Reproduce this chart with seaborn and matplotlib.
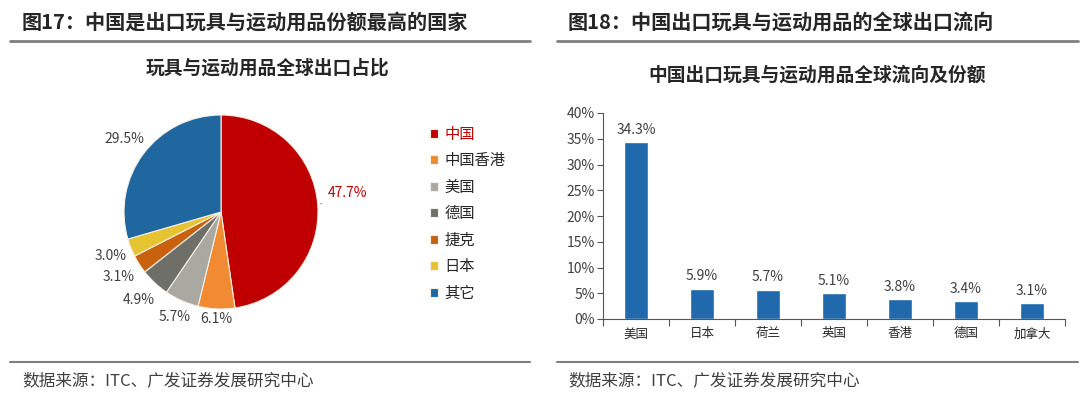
import numpy as np
import pandas as pd
import seaborn as sns
import matplotlib.pyplot as plt
import matplotlib.ticker as ticker
from matplotlib.lines import Line2D

sns.set_style("white")
plt.rcParams["font.family"] = ["Noto Sans CJK SC", "DejaVu Sans"]

# left panel: share of global toy & sporting goods exports
pie_labels = ["中国", "中国香港", "美国", "德国", "捷克", "日本", "其它"]
pie_shares = [47.7, 6.1, 5.7, 4.9, 3.1, 3.0, 29.5]
pie_colors = ["#C00000", "#F08A33", "#A9A9A2", "#6F6F6A", "#C8620F", "#E6C431", "#21679F"]

# right panel: destinations of China's toy & sporting goods exports
bar_countries = ["美国", "日本", "荷兰", "英国", "香港", "德国", "加拿大"]
bar_shares = [34.3, 5.9, 5.7, 5.1, 3.8, 3.4, 3.1]
bar_ticks = [0, 5, 10, 15, 20, 25, 30, 35, 40]

W, H = 1080, 395
fig = plt.figure(figsize=(W / 100, H / 100), dpi=100)

def fx(px):
    return px / W

def fy(py):
    return 1 - py / H

text_dark = "#262626"
text_gray = "#404040"
rule_gray = "#7F7F7F"

# panel headers, rules, footers
fig.text(fx(22), fy(22), "图17：中国是出口玩具与运动用品份额最高的国家",
         fontsize=14.5, fontweight="bold", color=text_dark, va="center")
fig.text(fx(568), fy(22), "图18：中国出口玩具与运动用品的全球出口流向",
         fontsize=14.5, fontweight="bold", color=text_dark, va="center")
for x0, x1 in [(10, 530), (557, 1078)]:
    fig.add_artist(Line2D([fx(x0), fx(x1)], [fy(41), fy(41)], color=rule_gray, lw=2))
    fig.add_artist(Line2D([fx(x0), fx(x1)], [fy(362), fy(362)], color=rule_gray, lw=1.5))
fig.text(fx(22), fy(381), "数据来源：ITC、广发证券发展研究中心",
         fontsize=12, color=text_gray, va="center")
fig.text(fx(568), fy(381), "数据来源：ITC、广发证券发展研究中心",
         fontsize=12, color=text_gray, va="center")

# ---- pie ----
cx, cy, r = 221, 212, 97
half = 1.25 * r
ax1 = fig.add_axes([fx(cx - half), fy(cy + half), 2 * half / W, 2 * half / H])
wedges, _ = ax1.pie(pie_shares, colors=pie_colors, startangle=90, counterclock=False,
                    wedgeprops=dict(edgecolor="#F4F0E8", linewidth=0.8))
ax1.set_aspect("equal")

label_dist = [None, 1.1, 1.19, 1.24, 1.25, 1.22, 1.25]
for w, share, d in zip(wedges, pie_shares, label_dist):
    mid = np.deg2rad((w.theta1 + w.theta2) / 2)
    if d is None:
        ax1.annotate(f"{share:.1f}%", xy=(np.cos(mid), np.sin(mid)),
                     xytext=(1.1, 0.2), fontsize=10, color="#C00000",
                     ha="left", va="center",
                     arrowprops=dict(arrowstyle="-", color="#A0A0A0", lw=0.8))
    else:
        ax1.text(d * np.cos(mid), d * np.sin(mid), f"{share:.1f}%",
                 fontsize=10, color=text_gray, ha="center", va="center")

fig.text(fx(268), fy(68), "玩具与运动用品全球出口占比", fontsize=13.5,
         fontweight="bold", color=text_dark, ha="center", va="center")

leg = fig.legend(wedges, pie_labels, loc="upper left",
                 bbox_to_anchor=(fx(416), fy(112)), frameon=False,
                 fontsize=11, handlelength=0.55, handleheight=0.55,
                 handletextpad=0.4, labelspacing=0.62)
leg.get_texts()[0].set_color("#C00000")
for t in leg.get_texts()[1:]:
    t.set_color(text_dark)

# ---- bars ----
ax2 = fig.add_axes([fx(603), fy(319), (1065 - 603) / W, (319 - 113) / H])
df = pd.DataFrame({"country": bar_countries, "share": bar_shares})
sns.barplot(data=df, x="country", y="share", color="#1F69AC", saturation=1,
            width=0.35, ax=ax2)
for i, v in enumerate(bar_shares):
    ax2.text(i, v + 1.0, f"{v:.1f}%", ha="center", va="bottom",
             fontsize=10, color=text_gray)

ax2.set_ylim(0, 40)
ax2.set_xlim(-0.5, len(bar_countries) - 0.5)
ax2.set_yticks(bar_ticks)
ax2.yaxis.set_major_formatter(ticker.FuncFormatter(lambda v, p: f"{v:.0f}%"))
ax2.set_xlabel("")
ax2.set_ylabel("")
ax2.xaxis.set_minor_locator(ticker.FixedLocator(np.arange(-0.5, len(bar_countries), 1)))
ax2.tick_params(axis="x", which="major", length=0, labelsize=9, colors=text_dark, pad=6)
ax2.tick_params(axis="x", which="minor", length=5, width=0.8, color="#555555", direction="out")
ax2.tick_params(axis="y", length=4, width=0.8, color="#555555", direction="out",
                labelsize=10, labelcolor=text_gray, pad=2)
ax2.tick_params(bottom=True, left=True, which="both")
sns.despine(ax=ax2)
for s in ["left", "bottom"]:
    ax2.spines[s].set_color("#555555")
    ax2.spines[s].set_linewidth(0.8)

fig.text(fx(817), fy(75), "中国出口玩具与运动用品全球流向及份额", fontsize=13.5,
         fontweight="bold", color=text_dark, ha="center", va="center")

fig.savefig("out.png", dpi=100, facecolor="white")
